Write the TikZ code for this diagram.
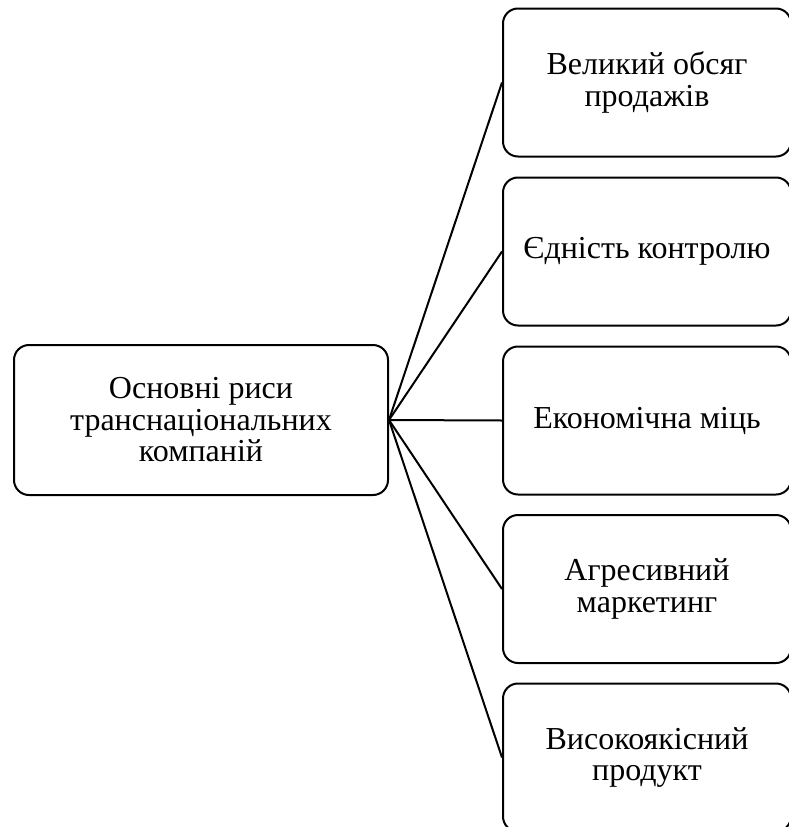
\documentclass[tikz,border=0pt]{standalone}
\usepackage{fontspec}
\setmainfont{Liberation Serif}
\usepackage{tikz}

\begin{document}
\begin{tikzpicture}[
  x=1pt, y=-1pt,
  feature/.style={rectangle, rounded corners=15pt, draw=black, line width=2pt,
                  minimum width=288pt, minimum height=148pt, align=center,
                  font=\fontsize{32}{31.5}\selectfont},
  root/.style={feature, minimum width=374pt, minimum height=150pt},
  link/.style={line width=2pt}
]
  \useasboundingbox (0,0) rectangle (789,827);

  % Головний блок
  \node[root] (main) at (201,420) {Основні риси\\транснаціональних\\компаній};

  % Риси
  \node[feature] (sales)     at (647,82.5)  {Великий обсяг\\продажів};
  \node[feature] (control)   at (647,251.5) {Єдність контролю};
  \node[feature] (power)     at (647,420.5) {Економічна міць};
  \node[feature] (marketing) at (647,589)   {Агресивний\\маркетинг};
  \node[feature] (product)   at (647,757.5) {Високоякісний\\продукт};

  % Зв'язки
  \foreach \n in {sales, control, power, marketing, product}
    \draw[link] (main.east) -- (\n.west);
\end{tikzpicture}
\end{document}
